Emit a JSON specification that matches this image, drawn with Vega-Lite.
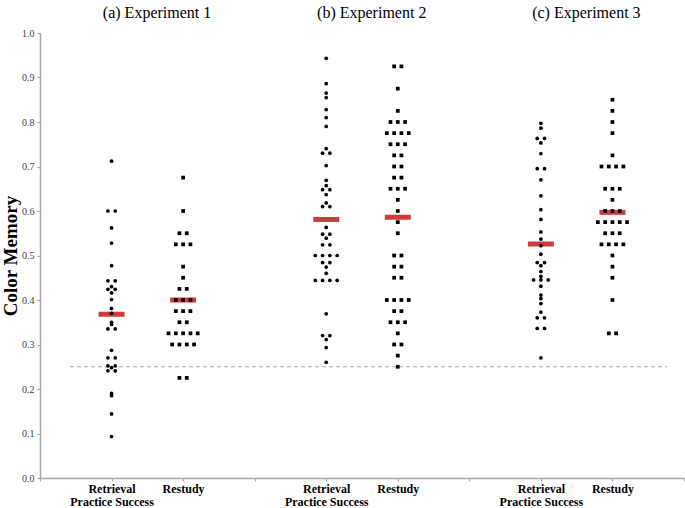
{
  "$schema": "https://vega.github.io/schema/vega-lite/v6.json",
  "width": 644,
  "height": 445,
  "autosize": {"type": "none"},
  "padding": {"left": 40, "top": 33, "right": 1, "bottom": 30},
  "background": "white",
  "config": {
    "font": "Liberation Serif, Times New Roman, serif",
    "view": {"stroke": null},
    "style": {"guide-label": {"font": "Liberation Serif, Times New Roman, serif"}, "guide-title": {"font": "Liberation Serif, Times New Roman, serif"}},
    "axis": {"grid": false, "domainColor": "#a8a8a8", "domainWidth": 1.5, "tickColor": "#a8a8a8", "tickWidth": 1.2, "labelFont": "Liberation Serif, Times New Roman, serif", "titleFont": "Liberation Serif, Times New Roman, serif"}
  },
  "datasets": {
    "dots": [
      {"g": "E1R", "cond": "R", "v": 0.712}, {"g": "E1R", "cond": "R", "v": 0.6}, {"g": "E1R", "cond": "R", "v": 0.6},
      {"g": "E1R", "cond": "R", "v": 0.562}, {"g": "E1R", "cond": "R", "v": 0.528}, {"g": "E1R", "cond": "R", "v": 0.477},
      {"g": "E1R", "cond": "R", "v": 0.443}, {"g": "E1R", "cond": "R", "v": 0.443}, {"g": "E1R", "cond": "R", "v": 0.43},
      {"g": "E1R", "cond": "R", "v": 0.424}, {"g": "E1R", "cond": "R", "v": 0.424}, {"g": "E1R", "cond": "R", "v": 0.416},
      {"g": "E1R", "cond": "R", "v": 0.401}, {"g": "E1R", "cond": "R", "v": 0.381}, {"g": "E1R", "cond": "R", "v": 0.37},
      {"g": "E1R", "cond": "R", "v": 0.35}, {"g": "E1R", "cond": "R", "v": 0.345}, {"g": "E1R", "cond": "R", "v": 0.335},
      {"g": "E1R", "cond": "R", "v": 0.335}, {"g": "E1R", "cond": "R", "v": 0.287}, {"g": "E1R", "cond": "R", "v": 0.27},
      {"g": "E1R", "cond": "R", "v": 0.27}, {"g": "E1R", "cond": "R", "v": 0.252}, {"g": "E1R", "cond": "R", "v": 0.252},
      {"g": "E1R", "cond": "R", "v": 0.248}, {"g": "E1R", "cond": "R", "v": 0.241}, {"g": "E1R", "cond": "R", "v": 0.241},
      {"g": "E1R", "cond": "R", "v": 0.19}, {"g": "E1R", "cond": "R", "v": 0.185}, {"g": "E1R", "cond": "R", "v": 0.144},
      {"g": "E1R", "cond": "R", "v": 0.093},

      {"g": "E1S", "cond": "S", "v": 0.675}, {"g": "E1S", "cond": "S", "v": 0.6},
      {"g": "E1S", "cond": "S", "v": 0.55}, {"g": "E1S", "cond": "S", "v": 0.55},
      {"g": "E1S", "cond": "S", "v": 0.525}, {"g": "E1S", "cond": "S", "v": 0.525}, {"g": "E1S", "cond": "S", "v": 0.525},
      {"g": "E1S", "cond": "S", "v": 0.475}, {"g": "E1S", "cond": "S", "v": 0.45},
      {"g": "E1S", "cond": "S", "v": 0.425}, {"g": "E1S", "cond": "S", "v": 0.425},
      {"g": "E1S", "cond": "S", "v": 0.4}, {"g": "E1S", "cond": "S", "v": 0.4}, {"g": "E1S", "cond": "S", "v": 0.4},
      {"g": "E1S", "cond": "S", "v": 0.375}, {"g": "E1S", "cond": "S", "v": 0.375}, {"g": "E1S", "cond": "S", "v": 0.375},
      {"g": "E1S", "cond": "S", "v": 0.35}, {"g": "E1S", "cond": "S", "v": 0.35},
      {"g": "E1S", "cond": "S", "v": 0.325}, {"g": "E1S", "cond": "S", "v": 0.325}, {"g": "E1S", "cond": "S", "v": 0.325}, {"g": "E1S", "cond": "S", "v": 0.325}, {"g": "E1S", "cond": "S", "v": 0.325},
      {"g": "E1S", "cond": "S", "v": 0.3}, {"g": "E1S", "cond": "S", "v": 0.3}, {"g": "E1S", "cond": "S", "v": 0.3}, {"g": "E1S", "cond": "S", "v": 0.3},
      {"g": "E1S", "cond": "S", "v": 0.225}, {"g": "E1S", "cond": "S", "v": 0.225},

      {"g": "E2R", "cond": "R", "v": 0.943}, {"g": "E2R", "cond": "R", "v": 0.886}, {"g": "E2R", "cond": "R", "v": 0.865},
      {"g": "E2R", "cond": "R", "v": 0.855}, {"g": "E2R", "cond": "R", "v": 0.828}, {"g": "E2R", "cond": "R", "v": 0.81},
      {"g": "E2R", "cond": "R", "v": 0.79}, {"g": "E2R", "cond": "R", "v": 0.74}, {"g": "E2R", "cond": "R", "v": 0.73},
      {"g": "E2R", "cond": "R", "v": 0.73}, {"g": "E2R", "cond": "R", "v": 0.702}, {"g": "E2R", "cond": "R", "v": 0.669},
      {"g": "E2R", "cond": "R", "v": 0.657}, {"g": "E2R", "cond": "R", "v": 0.648}, {"g": "E2R", "cond": "R", "v": 0.648},
      {"g": "E2R", "cond": "R", "v": 0.637}, {"g": "E2R", "cond": "R", "v": 0.618}, {"g": "E2R", "cond": "R", "v": 0.61},
      {"g": "E2R", "cond": "R", "v": 0.61}, {"g": "E2R", "cond": "R", "v": 0.563}, {"g": "E2R", "cond": "R", "v": 0.548},
      {"g": "E2R", "cond": "R", "v": 0.548}, {"g": "E2R", "cond": "R", "v": 0.539}, {"g": "E2R", "cond": "R", "v": 0.524},
      {"g": "E2R", "cond": "R", "v": 0.524}, {"g": "E2R", "cond": "R", "v": 0.5}, {"g": "E2R", "cond": "R", "v": 0.5},
      {"g": "E2R", "cond": "R", "v": 0.5}, {"g": "E2R", "cond": "R", "v": 0.5}, {"g": "E2R", "cond": "R", "v": 0.484},
      {"g": "E2R", "cond": "R", "v": 0.484}, {"g": "E2R", "cond": "R", "v": 0.474}, {"g": "E2R", "cond": "R", "v": 0.46},
      {"g": "E2R", "cond": "R", "v": 0.444}, {"g": "E2R", "cond": "R", "v": 0.444}, {"g": "E2R", "cond": "R", "v": 0.444},
      {"g": "E2R", "cond": "R", "v": 0.444}, {"g": "E2R", "cond": "R", "v": 0.369}, {"g": "E2R", "cond": "R", "v": 0.32},
      {"g": "E2R", "cond": "R", "v": 0.32}, {"g": "E2R", "cond": "R", "v": 0.311}, {"g": "E2R", "cond": "R", "v": 0.293},
      {"g": "E2R", "cond": "R", "v": 0.26},

      {"g": "E2S", "cond": "S", "v": 0.925}, {"g": "E2S", "cond": "S", "v": 0.925}, {"g": "E2S", "cond": "S", "v": 0.875},
      {"g": "E2S", "cond": "S", "v": 0.825},
      {"g": "E2S", "cond": "S", "v": 0.8}, {"g": "E2S", "cond": "S", "v": 0.8}, {"g": "E2S", "cond": "S", "v": 0.8},
      {"g": "E2S", "cond": "S", "v": 0.775}, {"g": "E2S", "cond": "S", "v": 0.775}, {"g": "E2S", "cond": "S", "v": 0.775}, {"g": "E2S", "cond": "S", "v": 0.775},
      {"g": "E2S", "cond": "S", "v": 0.75}, {"g": "E2S", "cond": "S", "v": 0.75}, {"g": "E2S", "cond": "S", "v": 0.75},
      {"g": "E2S", "cond": "S", "v": 0.725}, {"g": "E2S", "cond": "S", "v": 0.725},
      {"g": "E2S", "cond": "S", "v": 0.7}, {"g": "E2S", "cond": "S", "v": 0.7},
      {"g": "E2S", "cond": "S", "v": 0.675}, {"g": "E2S", "cond": "S", "v": 0.675},
      {"g": "E2S", "cond": "S", "v": 0.65}, {"g": "E2S", "cond": "S", "v": 0.65}, {"g": "E2S", "cond": "S", "v": 0.65},
      {"g": "E2S", "cond": "S", "v": 0.625}, {"g": "E2S", "cond": "S", "v": 0.6}, {"g": "E2S", "cond": "S", "v": 0.575},
      {"g": "E2S", "cond": "S", "v": 0.55},
      {"g": "E2S", "cond": "S", "v": 0.5}, {"g": "E2S", "cond": "S", "v": 0.5},
      {"g": "E2S", "cond": "S", "v": 0.475}, {"g": "E2S", "cond": "S", "v": 0.475},
      {"g": "E2S", "cond": "S", "v": 0.45}, {"g": "E2S", "cond": "S", "v": 0.45},
      {"g": "E2S", "cond": "S", "v": 0.4}, {"g": "E2S", "cond": "S", "v": 0.4}, {"g": "E2S", "cond": "S", "v": 0.4}, {"g": "E2S", "cond": "S", "v": 0.4},
      {"g": "E2S", "cond": "S", "v": 0.375}, {"g": "E2S", "cond": "S", "v": 0.375},
      {"g": "E2S", "cond": "S", "v": 0.35}, {"g": "E2S", "cond": "S", "v": 0.35}, {"g": "E2S", "cond": "S", "v": 0.35},
      {"g": "E2S", "cond": "S", "v": 0.325},
      {"g": "E2S", "cond": "S", "v": 0.3}, {"g": "E2S", "cond": "S", "v": 0.3},
      {"g": "E2S", "cond": "S", "v": 0.275}, {"g": "E2S", "cond": "S", "v": 0.25},

      {"g": "E3R", "cond": "R", "v": 0.797}, {"g": "E3R", "cond": "R", "v": 0.786}, {"g": "E3R", "cond": "R", "v": 0.763},
      {"g": "E3R", "cond": "R", "v": 0.763}, {"g": "E3R", "cond": "R", "v": 0.753}, {"g": "E3R", "cond": "R", "v": 0.729},
      {"g": "E3R", "cond": "R", "v": 0.695}, {"g": "E3R", "cond": "R", "v": 0.695}, {"g": "E3R", "cond": "R", "v": 0.67},
      {"g": "E3R", "cond": "R", "v": 0.634}, {"g": "E3R", "cond": "R", "v": 0.603}, {"g": "E3R", "cond": "R", "v": 0.581},
      {"g": "E3R", "cond": "R", "v": 0.553}, {"g": "E3R", "cond": "R", "v": 0.537}, {"g": "E3R", "cond": "R", "v": 0.522},
      {"g": "E3R", "cond": "R", "v": 0.503}, {"g": "E3R", "cond": "R", "v": 0.484}, {"g": "E3R", "cond": "R", "v": 0.484},
      {"g": "E3R", "cond": "R", "v": 0.477}, {"g": "E3R", "cond": "R", "v": 0.464}, {"g": "E3R", "cond": "R", "v": 0.453},
      {"g": "E3R", "cond": "R", "v": 0.445}, {"g": "E3R", "cond": "R", "v": 0.445}, {"g": "E3R", "cond": "R", "v": 0.445},
      {"g": "E3R", "cond": "R", "v": 0.431}, {"g": "E3R", "cond": "R", "v": 0.411}, {"g": "E3R", "cond": "R", "v": 0.403},
      {"g": "E3R", "cond": "R", "v": 0.392}, {"g": "E3R", "cond": "R", "v": 0.373}, {"g": "E3R", "cond": "R", "v": 0.36},
      {"g": "E3R", "cond": "R", "v": 0.36}, {"g": "E3R", "cond": "R", "v": 0.336}, {"g": "E3R", "cond": "R", "v": 0.336},
      {"g": "E3R", "cond": "R", "v": 0.27},

      {"g": "E3S", "cond": "S", "v": 0.85}, {"g": "E3S", "cond": "S", "v": 0.825}, {"g": "E3S", "cond": "S", "v": 0.8},
      {"g": "E3S", "cond": "S", "v": 0.775}, {"g": "E3S", "cond": "S", "v": 0.725},
      {"g": "E3S", "cond": "S", "v": 0.7}, {"g": "E3S", "cond": "S", "v": 0.7}, {"g": "E3S", "cond": "S", "v": 0.7}, {"g": "E3S", "cond": "S", "v": 0.7},
      {"g": "E3S", "cond": "S", "v": 0.65}, {"g": "E3S", "cond": "S", "v": 0.65}, {"g": "E3S", "cond": "S", "v": 0.65},
      {"g": "E3S", "cond": "S", "v": 0.625},
      {"g": "E3S", "cond": "S", "v": 0.6}, {"g": "E3S", "cond": "S", "v": 0.6}, {"g": "E3S", "cond": "S", "v": 0.6},
      {"g": "E3S", "cond": "S", "v": 0.575}, {"g": "E3S", "cond": "S", "v": 0.575}, {"g": "E3S", "cond": "S", "v": 0.575}, {"g": "E3S", "cond": "S", "v": 0.575}, {"g": "E3S", "cond": "S", "v": 0.575},
      {"g": "E3S", "cond": "S", "v": 0.55}, {"g": "E3S", "cond": "S", "v": 0.55}, {"g": "E3S", "cond": "S", "v": 0.55},
      {"g": "E3S", "cond": "S", "v": 0.525}, {"g": "E3S", "cond": "S", "v": 0.525}, {"g": "E3S", "cond": "S", "v": 0.525}, {"g": "E3S", "cond": "S", "v": 0.525},
      {"g": "E3S", "cond": "S", "v": 0.5}, {"g": "E3S", "cond": "S", "v": 0.475}, {"g": "E3S", "cond": "S", "v": 0.45},
      {"g": "E3S", "cond": "S", "v": 0.4}, {"g": "E3S", "cond": "S", "v": 0.325}, {"g": "E3S", "cond": "S", "v": 0.325}
    ],
    "means": [
      {"g": "E1R", "mean": 0.368}, {"g": "E1S", "mean": 0.4},
      {"g": "E2R", "mean": 0.581}, {"g": "E2S", "mean": 0.586},
      {"g": "E3R", "mean": 0.526}, {"g": "E3S", "mean": 0.597}
    ],
    "chance": [{"y": 0.25}]
  },
  "resolve": {"axis": {"x": "independent"}},
  "layer": [
    {
      "data": {"name": "chance"},
      "mark": {"type": "rule", "strokeDash": [4, 3], "color": "#a8a8a8", "strokeWidth": 1.2, "xOffset": 30, "x2Offset": -17},
      "encoding": {
        "x": {"datum": "s0", "type": "nominal", "scale": {"type": "point", "padding": 0, "domain": ["s0", "E1R", "E1S", "s1", "E2R", "E2S", "s2", "E3R", "E3S", "s3"]}, "axis": null},
        "x2": {"datum": "s3"},
        "y": {"field": "y", "type": "quantitative", "scale": {"domain": [0, 1], "nice": false, "zero": true},
          "axis": {"title": "Color Memory", "values": [0, 0.1, 0.2, 0.3, 0.4, 0.5, 0.6, 0.7, 0.8, 0.9, 1.0], "format": ".1f",
            "labelFontSize": 10, "labelColor": "#404040", "tickSize": 3, "labelPadding": 3,
            "titleFontSize": 19, "titleFontWeight": "bold", "titleColor": "black", "titlePadding": 1}}
      }
    },
    {
      "data": {"name": "means"},
      "mark": {"type": "tick", "orient": "horizontal", "size": 26, "thickness": 5, "color": "#d13b3b", "opacity": 1},
      "encoding": {
        "x": {"field": "g", "type": "nominal", "scale": {"type": "point", "padding": 0, "domain": ["s0", "E1R", "E1S", "s1", "E2R", "E2S", "s2", "E3R", "E3S", "s3"]},
          "axis": {"orient": "top", "values": ["E1R", "E2R", "E3R"], "title": null, "domain": false, "ticks": false,
            "labelExpr": "datum.value == 'E1R' ? '(a) Experiment 1' : (datum.value == 'E2R' ? '(b) Experiment 2' : '(c) Experiment 3')",
            "labelOffset": 45, "labelFontSize": 16, "labelColor": "black", "labelPadding": 13,
            "labelAngle": 0, "labelOverlap": false, "labelBound": false, "labelLimit": 300}},
        "y": {"field": "mean", "type": "quantitative", "scale": {"domain": [0, 1], "nice": false, "zero": true},
          "axis": {"title": "Color Memory", "values": [0, 0.1, 0.2, 0.3, 0.4, 0.5, 0.6, 0.7, 0.8, 0.9, 1.0], "format": ".1f",
            "labelFontSize": 10, "labelColor": "#404040", "tickSize": 3, "labelPadding": 3,
            "titleFontSize": 19, "titleFontWeight": "bold", "titleColor": "black", "titlePadding": 1}}
      }
    },
    {
      "data": {"name": "dots"},
      "transform": [
        {"window": [{"op": "row_number", "as": "rn"}, {"op": "count", "as": "n"}], "groupby": ["g", "v"], "frame": [null, null]},
        {"calculate": "datum.rn - (datum.n + 1) / 2", "as": "off"}
      ],
      "mark": {"type": "point", "filled": true, "opacity": 1, "size": 14, "color": "black"},
      "encoding": {
        "x": {"field": "g", "type": "nominal", "scale": {"type": "point", "padding": 0, "domain": ["s0", "E1R", "E1S", "s1", "E2R", "E2S", "s2", "E3R", "E3S", "s3"]},
          "axis": {"orient": "bottom", "title": null, "labelAngle": 0,
            "labelExpr": "substring(datum.value, 2, 3) == 'R' ? ['Retrieval', 'Practice Success'] : (substring(datum.value, 2, 3) == 'S' ? 'Restudy' : '')",
            "labelFontSize": 12, "labelFontWeight": "bold", "labelColor": "black",
            "labelLineHeight": 13, "labelPadding": 2, "tickSize": 3, "labelOverlap": false, "labelBound": false, "labelLimit": 200}},
        "xOffset": {"field": "off", "type": "quantitative", "scale": {"domain": [-3, 3], "range": [-21.9, 21.9], "zero": false, "nice": false}},
        "y": {"field": "v", "type": "quantitative", "scale": {"domain": [0, 1], "nice": false, "zero": true},
          "axis": {"title": "Color Memory", "values": [0, 0.1, 0.2, 0.3, 0.4, 0.5, 0.6, 0.7, 0.8, 0.9, 1.0], "format": ".1f",
            "labelFontSize": 10, "labelColor": "#404040", "tickSize": 3, "labelPadding": 3,
            "titleFontSize": 19, "titleFontWeight": "bold", "titleColor": "black", "titlePadding": 1}},
        "shape": {"field": "cond", "type": "nominal", "scale": {"domain": ["R", "S"], "range": ["circle", "square"]}, "legend": null}
      }
    }
  ]
}
